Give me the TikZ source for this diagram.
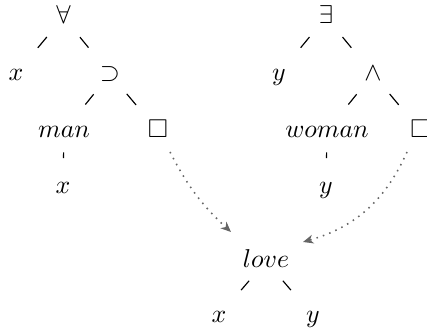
\documentclass[tikz,border=0pt]{standalone}
\usepackage{amssymb}
\usetikzlibrary{calc,arrows.meta}
\begin{document}
\begin{tikzpicture}[x=0.3876pt,y=-0.3876pt,
  lbl/.style={inner sep=0pt,text height=7pt,text depth=2pt},
  br/.style={line width=0.45pt,shorten <=10.1pt,shorten >=13.2pt},
  vr/.style={line width=0.45pt,shorten <=8.3pt,shorten >=11.2pt},
  ptr/.style={draw=black!60,dotted,line width=0.6pt,-{Stealth[length=4pt,width=3.4pt,inset=1.2pt]}}]
\useasboundingbox (0,0) rectangle (427,335);
% left tree
\node[lbl] (fa) at (63.5,17) {$\forall$};
\node[lbl] (x1) at (16,74) {$x$};
\node[lbl] (sup) at (110,74) {$\supset$};
\node[lbl] (man) at (64,131) {$man$};
\node[lbl] (boxL) at (158,131) {$\square$};
\node[lbl] (x2) at (63,187) {$x$};
% right tree
\node[lbl] (ex) at (326,17) {$\exists$};
\node[lbl] (y1) at (279,74) {$y$};
\node[lbl] (and) at (373,74) {$\wedge$};
\node[lbl] (wom) at (327,131) {$woman$};
\node[lbl] (boxR) at (420.5,131) {$\square$};
\node[lbl] (y2) at (326,187) {$y$};
% love
\node[lbl] (love) at (266,261) {$love$};
\node[lbl] (x3) at (219,316) {$x$};
\node[lbl] (y3) at (313,316) {$y$};
% edges
\draw[br] (fa.center) -- (x1.center);
\draw[br] (fa.center) -- (sup.center);
\draw[br] (sup.center) -- (man.center);
\draw[br] (sup.center) -- (boxL.center);
\draw[vr] (man.center) -- (x2.center);
\draw[br] (ex.center) -- (y1.center);
\draw[br] (ex.center) -- (and.center);
\draw[br] (and.center) -- (wom.center);
\draw[br] (and.center) -- (boxR.center);
\draw[vr] (wom.center) -- (y2.center);
\draw[br] (love.center) -- (x3.center);
\draw[br] (love.center) -- (y3.center);
% pointers
\coordinate (sL) at ($(boxL)+(12,21)$);
\coordinate (tL) at ($(love)+(-35,-29)$);
\coordinate (sR) at ($(boxR)+(-13.5,21)$);
\coordinate (tR) at ($(love)+(37,-19)$);
\draw[ptr] (sL) to[bend right=10] (tL);
\draw[ptr] (sR) to[bend left=25] (tR);
\end{tikzpicture}
\end{document}
